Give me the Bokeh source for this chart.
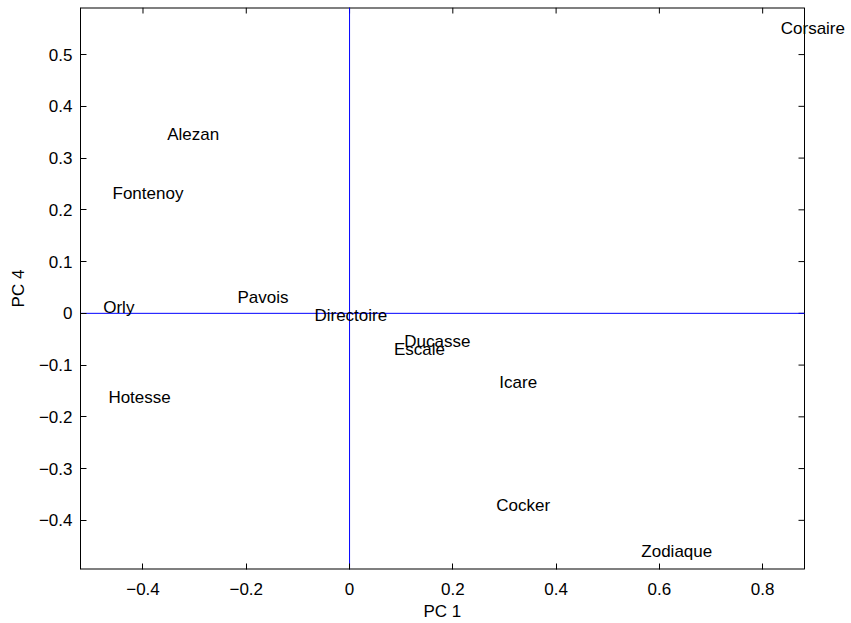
import math
from bokeh.plotting import figure
from bokeh.models import (FixedTicker, CustomJSTickFormatter, Range1d,
                          ColumnDataSource, Title)
from bokeh.core.properties import value
from bokeh.embed import file_html
from bokeh.resources import INLINE

names = ["Corsaire", "Alezan", "Fontenoy", "Orly", "Pavois", "Directoire",
         "Ducasse", "Escale", "Icare", "Hotesse", "Cocker", "Zodiaque"]
pc1 = [0.835, -0.353, -0.459, -0.477, -0.217, -0.068,
       0.106, 0.086, 0.290, -0.467, 0.284, 0.565]
pc4 = [0.550, 0.345, 0.231, 0.011, 0.030, -0.005,
       -0.055, -0.069, -0.134, -0.163, -0.372, -0.461]

x_ticks = [-0.4, -0.2, 0, 0.2, 0.4, 0.6, 0.8]
y_ticks = [-0.4, -0.3, -0.2, -0.1, 0, 0.1, 0.2, 0.3, 0.4, 0.5]

# axis limits of the box
X0, X1 = -0.521, 0.881
Y0, Y1 = -0.495, 0.591

FONT = "Liberation Sans"
FS = "17px"

W, H = 849, 622
BL = 80          # left border (px)
BOX_R = 804      # right edge of box (px)
# frame extends to the right edge of the canvas so that labels are not clipped
px_per_unit = (BOX_R - BL) / (X1 - X0)
XMAX = X1 + (W - BOX_R) / px_per_unit

p = figure(width=W, height=H, output_backend="svg", toolbar_location=None,
           x_range=Range1d(X0, XMAX), y_range=Range1d(Y0, Y1),
           min_border_left=BL, min_border_right=0, min_border_top=7,
           min_border_bottom=20)
p.grid.visible = False
p.outline_line_color = None
p.background_fill_color = "white"
p.border_fill_color = "white"

fmt = CustomJSTickFormatter(code="""
if (Math.abs(tick) < 1e-9) { return '0'; }
return tick.toFixed(1).replace('-', '\u2212');
""")

for ax, ticks in ((p.xaxis[0], x_ticks), (p.yaxis[0], y_ticks)):
    ax.ticker = FixedTicker(ticks=ticks)
    ax.formatter = fmt
    ax.major_tick_in = 6
    ax.major_tick_out = 0
    ax.minor_tick_in = 0
    ax.minor_tick_out = 0
    ax.major_label_text_font = FONT
    ax.major_label_text_font_size = FS
    ax.major_label_text_color = "black"
    ax.axis_label_text_font = FONT
    ax.axis_label_text_font_size = FS
    ax.axis_label_text_font_style = "normal"
    ax.axis_label_text_color = "black"
    ax.axis_line_color = "black"
    ax.major_tick_line_color = "black"

p.xaxis[0].axis_line_color = None
p.xaxis[0].major_label_standoff = 13
p.yaxis[0].major_label_standoff = 8
p.yaxis[0].axis_label = "PC 4"
p.yaxis[0].axis_label_standoff = 8

# x-axis title, centred under the box (not under the wider frame)
label_w = 38
p.add_layout(Title(text="PC 1", align="left",
                   offset=(BOX_R - BL) / 2 - label_w / 2,
                   text_font=FONT, text_font_size=FS, text_font_style="normal",
                   text_color="black", standoff=4), "below")

# box: bottom and top edges (width 2, half clipped at frame edge) and right edge
p.segment(x0=[X0, X0], y0=[Y0, Y1], x1=[X1, X1], y1=[Y0, Y1],
          line_color="black", line_width=2)
p.segment(x0=[X1], y0=[Y0], x1=[X1], y1=[Y1], line_color="black", line_width=1)

# inward ticks on the top and right edges of the box
p.ray(x=x_ticks, y=[Y1] * len(x_ticks), length=6, length_units="screen",
      angle=-math.pi / 2, line_color="black", line_width=1)
p.ray(x=[X1] * len(y_ticks), y=y_ticks, length=6, length_units="screen",
      angle=math.pi, line_color="black", line_width=1)

# blue zero lines
p.segment(x0=[X0, 0], y0=[0, Y0], x1=[X1, 0], y1=[0, Y1],
          line_color="#0000ff", line_width=1)

src = ColumnDataSource(dict(x=pc1, y=pc4, name=names))
p.text(x="x", y="y", text="name", source=src, text_align="left",
       text_baseline="middle", text_font=value(FONT), text_font_size=FS,
       text_color="black")

open("out.html", "w").write(file_html(p, INLINE))
